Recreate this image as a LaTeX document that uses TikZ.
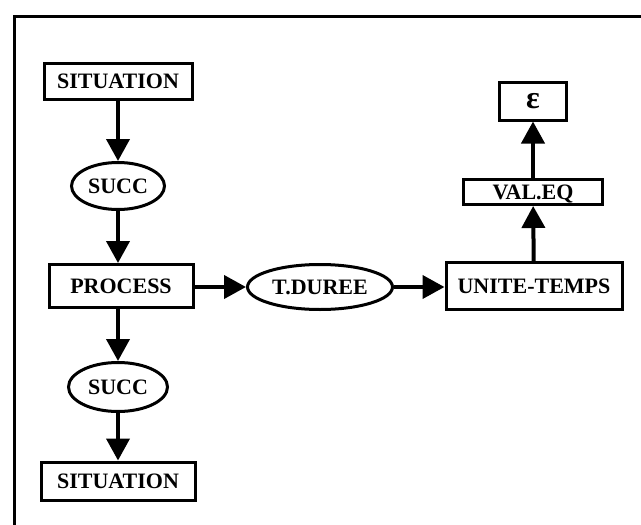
\documentclass[tikz,border=0pt]{standalone}
\usepackage{fontspec}
\setmainfont{Liberation Serif}
\usetikzlibrary{arrows.meta,shapes.geometric}
\begin{document}
\begin{tikzpicture}[x=1pt,y=-1pt,
  every node/.style={font=\fontsize{22}{24}\selectfont\bfseries,
    inner sep=0pt, text height=15pt, text depth=0pt, align=center},
  conceptbox/.style={draw, line width=3pt, rectangle},
  relation/.style={draw, line width=3pt, ellipse},
  link/.style={line width=4pt, -{Triangle[length=22pt,width=23pt]}, shorten >=0pt}]
  \useasboundingbox (0,0) rectangle (641,525);
  % open frame: left and top edges
  \draw[line width=3pt] (14,530) -- (14,16) -- (646,16);

  % left column: situation / succ / process / succ / situation
  \node[conceptbox, minimum width=148pt, minimum height=36pt] (sit1) at (118,81) {SITUATION};
  \node[relation, minimum width=93pt, minimum height=47pt] (succ1) at (118,186) {SUCC};
  \node[conceptbox, minimum width=144pt, minimum height=43pt] (proc) at (121,286) {PROCESS};
  \node[relation, minimum width=99pt, minimum height=49pt] (succ2) at (118,387) {SUCC};
  \node[conceptbox, minimum width=154pt, minimum height=38pt] (sit2) at (118,481) {SITUATION};

  % middle and right column
  \node[relation, minimum width=145pt, minimum height=45pt] (tdur) at (320,287) {T.DUREE};
  \node[conceptbox, minimum width=176pt, minimum height=47pt] (unit) at (534,286) {UNITE-TEMPS};
  \node[conceptbox, minimum width=139pt, minimum height=25pt, text height=14pt] (valeq) at (533,192) {VAL.EQ};
  \node[conceptbox, minimum width=67pt, minimum height=38pt, text height=15pt,
        font=\fontsize{32}{34}\selectfont\bfseries] (eps) at (533,101) {ε};

  % connectors
  \draw[link] (sit1) -- (succ1);
  \draw[link] (succ1.south) -- (succ1.south |- proc.north);
  \draw[link] (succ2.north |- proc.south) -- (succ2);
  \draw[link] (succ2) -- (sit2);
  \draw[link] (proc.east |- tdur.west) -- (tdur);
  \draw[link] (tdur) -- (tdur.east -| unit.west);
  \draw[link] (unit) -- (valeq);
  \draw[link] (valeq) -- (eps);
\end{tikzpicture}
\end{document}
